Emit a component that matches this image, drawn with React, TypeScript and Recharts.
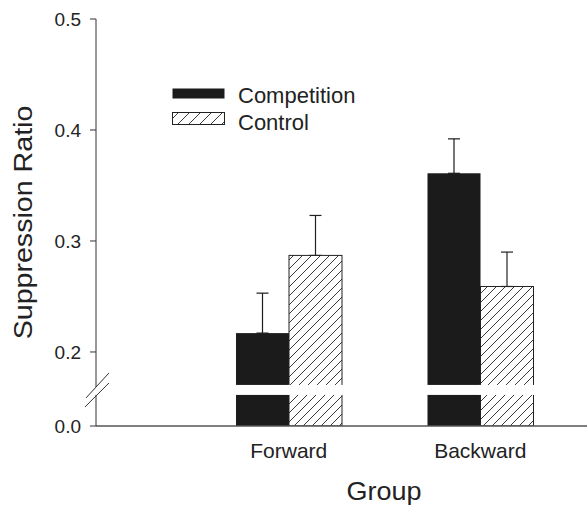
import React from 'react';
import { BarChart, Bar, XAxis, YAxis, ErrorBar } from 'recharts';

const FONT = '"Liberation Sans", Arial, Helvetica, sans-serif';

// Categories and series
const groups = ['Forward', 'Backward'];
const seriesNames = ['Competition', 'Control'];
const competition = [0.217, 0.361];
const competitionErr = [0.036, 0.031];
const control = [0.287, 0.259];
const controlErr = [0.036, 0.031];

// Broken y axis: the floor of the drawn axis stands for 0.0
const AXIS_FLOOR = 0.1333;
const BREAK_MID = 0.1658;
const BREAK_LOW = 0.1613;
const BREAK_HIGH = 0.1703;
const yTicks = [AXIS_FLOOR, BREAK_MID, 0.2, 0.3, 0.4, 0.5];
const yTickLabels = ['0.0', '', '0.2', '0.3', '0.4', '0.5'];

const data = groups.map((g, i) => ({
  group: g,
  competition: competition[i],
  competitionErr: [0, competitionErr[i]],
  control: control[i],
  controlErr: [0, controlErr[i]],
}));

const TICK_SIZE = 6;
const TICK_MARGIN = 9;

function YTick(props: any) {
  const { x, y, payload } = props;
  const ax = x + TICK_SIZE + TICK_MARGIN;
  const i = yTicks.indexOf(payload.value);
  if (yTicks[i] === BREAK_MID) {
    return (
      <g>
        <rect x={ax - 2} y={y - 3} width={4} height={8} fill="#fff" />
        <line x1={ax - 10} y1={y + 8} x2={ax + 13} y2={y - 17} stroke="#333" strokeWidth={1} />
        <line x1={ax - 11} y1={y + 17} x2={ax + 13} y2={y - 7} stroke="#333" strokeWidth={1} />
      </g>
    );
  }
  return (
    <g>
      <line x1={ax - TICK_SIZE} y1={y} x2={ax} y2={y} stroke="#333" strokeWidth={1} />
      <text x={x} y={y} dy="0.36em" textAnchor="end" fontSize={19} fill="#222" fontFamily={FONT}>
        {yTickLabels[i]}
      </text>
    </g>
  );
}

// Bar with the axis-break gap cut out (positions derived from the bar's own scale)
const makeBrokenBar = (key: string, fill: string, stroke?: string) => (p: any) => {
  const { x, y, width, height, payload } = p;
  const v = payload[key];
  const base = y + height;
  const ppu = height / (v - AXIS_FLOOR);
  const gTop = base - (BREAK_HIGH - AXIS_FLOOR) * ppu;
  const gBot = base - (BREAK_LOW - AXIS_FLOOR) * ppu;
  return (
    <g>
      <rect x={x} y={y} width={width} height={height} fill={fill} stroke={stroke || 'none'} strokeWidth={1} />
      <rect x={x - 1.5} y={gTop} width={width + 3} height={gBot - gTop} fill="#fff" />
    </g>
  );
};

const YTitle = (p: any) => {
  const vb = p.viewBox || {};
  const cy = vb.y + vb.height / 2;
  return (
    <text
      transform={`translate(32, ${cy}) rotate(-90) scale(1.1, 1)`}
      textAnchor="middle"
      fontSize={26}
      fill="#222"
      fontFamily={FONT}
    >
      Suppression Ratio
    </text>
  );
};

const XTitle = () => (
  <text
    transform={`translate(384, 500) scale(1.08, 1)`}
    textAnchor="middle"
    fontSize={25}
    fill="#222"
    fontFamily={FONT}
  >
    Group
  </text>
);

export default function App() {
  return (
    <div style={{ position: 'absolute', left: 0, top: 0, width: 587, height: 506, background: '#fff', fontFamily: FONT }}>
      <svg width={0} height={0} style={{ position: 'absolute' }}>
        <defs>
          <pattern id="hatch" patternUnits="userSpaceOnUse" width="9" height="9">
            <path d="M-1,1 L1,-1 M0,9 L9,0 M8,10 L10,8" stroke="#222" strokeWidth="0.9" />
          </pattern>
          <pattern id="hatchLegend" patternUnits="userSpaceOnUse" width="11" height="11" x="2">
            <path d="M-1,1 L1,-1 M0,11 L11,0 M10,12 L12,10" stroke="#222" strokeWidth="0.9" />
          </pattern>
        </defs>
      </svg>
      <BarChart
        width={587}
        height={506}
        data={data}
        margin={{ top: 19, right: 0, left: 0, bottom: 40 }}
        barGap={0}
        barSize={53}
        style={{ fontFamily: FONT }}
      >
        <XAxis
          dataKey="group"
          height={40}
          padding={{ left: 97, right: 11 }}
          tickLine={false}
          tickSize={6}
          tickMargin={11}
          axisLine={{ stroke: '#555', strokeWidth: 1.6 }}
          tick={{ fontSize: 21, fill: '#222', fontFamily: FONT }}
          label={{ content: XTitle }}
        />
        <YAxis
          type="number"
          width={96}
          domain={[AXIS_FLOOR, 0.5]}
          ticks={yTicks}
          interval={0}
          allowDataOverflow
          tickLine={false}
          tickSize={TICK_SIZE}
          tickMargin={TICK_MARGIN}
          axisLine={{ stroke: '#333', strokeWidth: 1 }}
          tick={YTick}
          label={{ content: YTitle }}
        />
        <Bar
          dataKey="competition"
          name={seriesNames[0]}
          fill="#1b1b1b"
          isAnimationActive={false}
          shape={makeBrokenBar('competition', '#1b1b1b')}
        >
          <ErrorBar dataKey="competitionErr" width={6} stroke="#1b1b1b" strokeWidth={1.2} direction="y" />
        </Bar>
        <Bar
          dataKey="control"
          name={seriesNames[1]}
          fill="url(#hatch)"
          isAnimationActive={false}
          shape={makeBrokenBar('control', 'url(#hatch)', '#222')}
        >
          <ErrorBar dataKey="controlErr" width={6} stroke="#222" strokeWidth={1.2} direction="y" />
        </Bar>
      </BarChart>
      <svg width={200} height={60} style={{ position: 'absolute', left: 165, top: 80 }}>
        <rect x={7.5} y={8.5} width={52} height={10} fill="#1b1b1b" />
        <text x={73} y={22.7} fontSize={22} fill="#222" fontFamily={FONT}>{seriesNames[0]}</text>
        <rect x={7.5} y={32.5} width={52} height={12} fill="url(#hatchLegend)" stroke="#222" strokeWidth={1} />
        <text x={73} y={50} fontSize={22} fill="#222" fontFamily={FONT}>{seriesNames[1]}</text>
      </svg>
    </div>
  );
}
